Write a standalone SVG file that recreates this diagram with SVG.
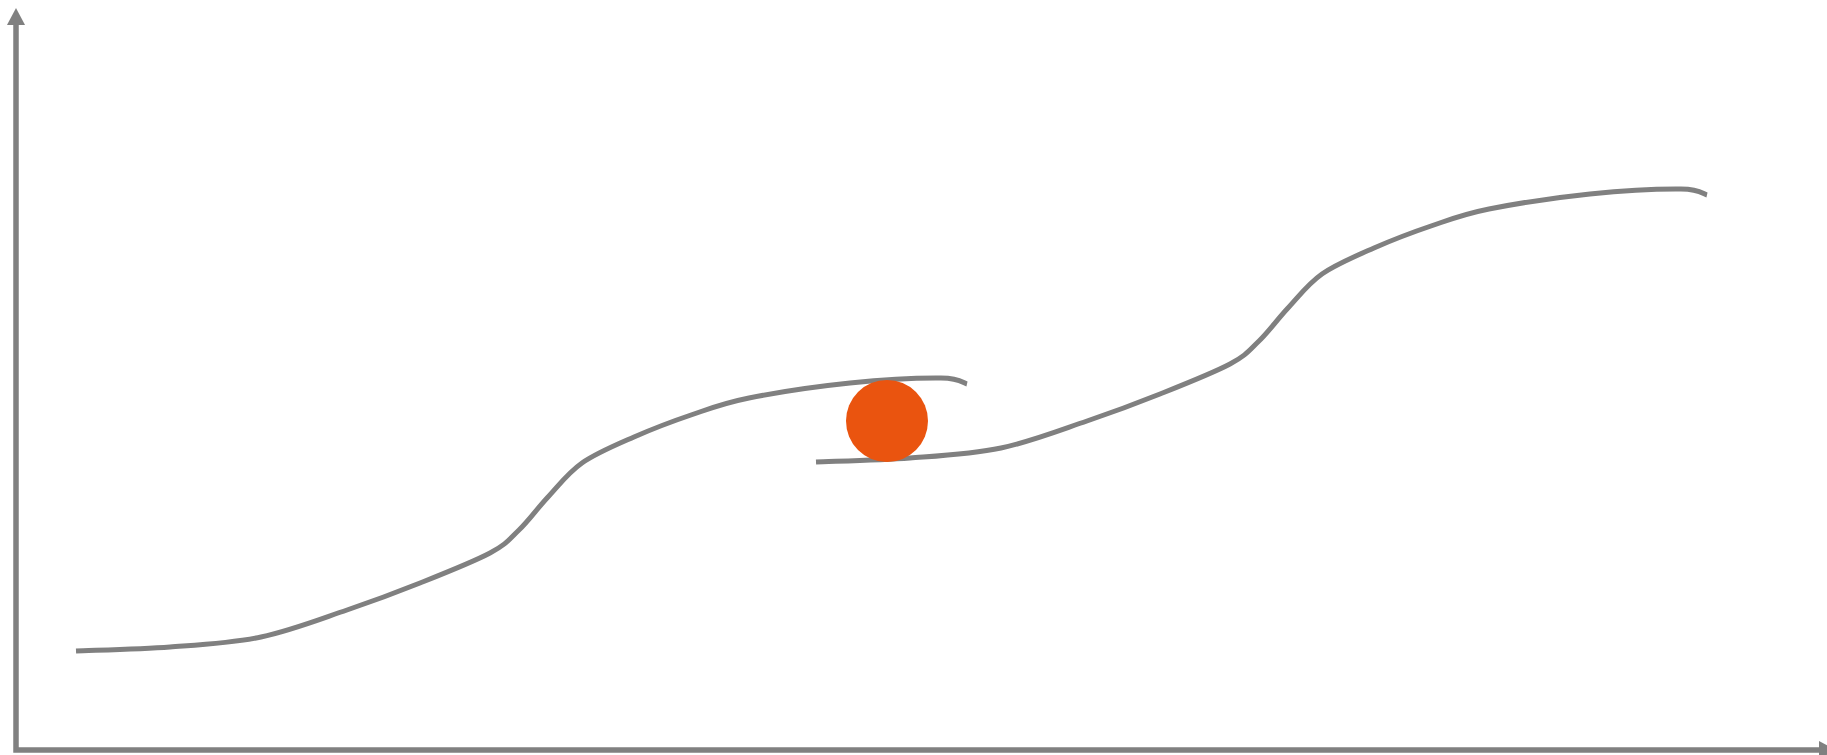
<svg xmlns="http://www.w3.org/2000/svg" width="1827" height="755" viewBox="0 0 1827 755">
<style>
.axis{fill:none;stroke:#808080;stroke-width:5.5;stroke-linejoin:miter}
.head{fill:#808080}
.curve{fill:none;stroke:#808080;stroke-width:5;stroke-linejoin:round}
.ball{fill:#EA540F}
</style>
<defs>
<path id="step" d="M76,651 C91.7,650.3 139.2,649.3 170,647 C200.8,644.7 231.5,643.2 261,637 C290.5,630.8 320.5,619 347,610 C373.5,601 396.2,592.5 420,583 C443.8,573.5 473.5,561.8 490,553 C506.5,544.2 509.3,539.3 519,530 C528.7,520.7 537.5,508.2 548,497 C558.5,485.8 567.7,473 582,463 C596.3,453 615.8,445 634,437 C652.2,429 671.8,421.5 691,415 C710.2,408.5 722.5,403.3 749,398 C775.5,392.7 818,386.3 850,383 C882,379.7 921.5,377.8 941,378 C960.5,378.2 962.7,383 967,384"/>
</defs>
<g id="axes">
<path class="axis" d="M16,25 V750 H1820"/>
<polygon class="head" points="16,8 7,25 25,25"/>
<polygon class="head" points="1819,741 1836,750 1819,759"/>
</g>
<g id="connectors">
<use href="#step" class="curve"/>
<use href="#step" class="curve" transform="translate(740,-189)"/>
</g>
<g id="ball">
<circle class="ball" cx="887" cy="421" r="41"/>
</g>
</svg>
